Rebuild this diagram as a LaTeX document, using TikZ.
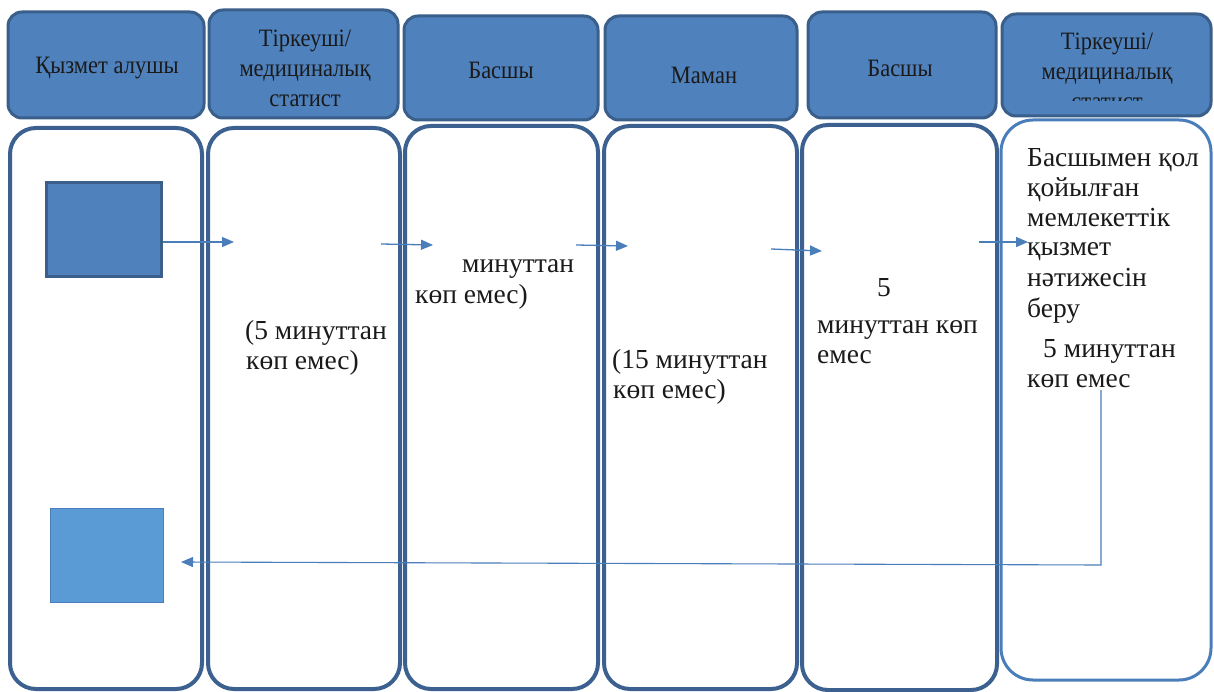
\documentclass[tikz,border=0pt]{standalone}
\usepackage{fontspec}
\setmainfont{Liberation Serif}
\newfontfamily\hdrfont{Liberation Serif}[FakeStretch=0.9]
\usetikzlibrary{arrows.meta}
\definecolor{hfill}{HTML}{4F81BD}
\definecolor{hborder}{HTML}{3A5F8B}
\definecolor{lborder}{HTML}{3C6190}
\definecolor{lborderlight}{HTML}{4A7EBB}
\definecolor{sqfill}{HTML}{5B9BD5}
\definecolor{acol}{HTML}{4A7EBB}
\definecolor{txt}{HTML}{1A1A1A}
\begin{document}
\begin{tikzpicture}[x=1pt,y=-1pt,
  hdr/.style={draw=hborder, fill=hfill, line width=3pt, rounded corners=14pt, inner sep=0pt},
  lane/.style={draw=lborder, line width=4pt, rounded corners=26pt, inner sep=0pt},
  htext/.style={font=\hdrfont\fontsize{25}{30}\selectfont, align=center, text=txt, inner sep=0pt},
  btext/.style={font=\fontsize{27.5}{30}\selectfont, anchor=base west, text=txt, inner sep=0pt},
  flow/.style={draw=acol, line width=1.3pt, -{Triangle[length=12pt,width=10pt]}}]
\useasboundingbox (0,0) rectangle (1214,692);
\fill[white] (0,0) rectangle (1214,692);

% header boxes
\node[hdr, minimum width=196pt, minimum height=106pt] (h1) at (106,65) {};
\node[hdr, minimum width=189pt, minimum height=108pt] (h2) at (303.5,64) {};
\node[hdr, minimum width=194pt, minimum height=104pt] (h3) at (501,68) {};
\node[hdr, minimum width=192pt, minimum height=104pt] (h4) at (701,68) {};
\node[hdr, minimum width=188pt, minimum height=106pt] (h5) at (902,65) {};
\node[hdr, minimum width=209pt, minimum height=102pt] (h6) at (1106.5,65) {};

% header texts
\node[htext] (ht1) at (107,68) {Қызмет алушы};
\node[htext] (ht2) at (305,68) {Тіркеуші/\\медициналық\\статист};
\node[htext] (ht3) at (501,70) {Басшы};
\node[htext] (ht4) at (704,75) {Маман};
\node[htext] (ht5) at (900,68) {Басшы};
\begin{scope}
  \clip (1000,0) rectangle (1214,101);
  \node[htext] (ht6) at (1107,71) {Тіркеуші/\\медициналық\\статист};
\end{scope}

% lanes
\node[lane, minimum width=192pt, minimum height=561pt] (l1) at (106,408.5) {};
\node[lane, minimum width=192pt, minimum height=561pt] (l2) at (304,408.5) {};
\node[lane, minimum width=193pt, minimum height=563pt] (l3) at (501.5,407.5) {};
\node[lane, minimum width=193pt, minimum height=563pt] (l4) at (700.5,407.5) {};
\node[lane, minimum width=195pt, minimum height=565pt] (l5) at (899.5,407.5) {};
\node[lane, draw=lborderlight, line width=3pt, rounded corners=32pt, minimum width=210pt, minimum height=560pt] (l6) at (1106,400) {};

% squares
\node[draw=hborder, fill=hfill, line width=3pt, minimum width=115pt, minimum height=94pt, inner sep=0pt] (s1) at (103.5,230) {};
\node[draw=lborderlight, fill=sqfill, line width=0.8pt, minimum width=113pt, minimum height=94pt, inner sep=0pt] (s2) at (106.5,555) {};

% arrow coordinates
\coordinate (a1e) at (234,242);
\coordinate (a2s) at (381,244);
\coordinate (a2e) at (433,245);
\coordinate (a3s) at (576,245);
\coordinate (a3e) at (628,246);
\coordinate (a4s) at (771,249);
\coordinate (a4e) at (822,251);
\coordinate (a5s) at (979,242);
\coordinate (a5e) at (1028,242);
\coordinate (r0) at (1101,390);
\coordinate (r1) at (1101,565);
\coordinate (r2) at (181,562);

\draw[flow] (s1.east |- a1e) -- (a1e);
\draw[flow] (a2s) -- (a2e);
\draw[flow] (a3s) -- (a3e);
\draw[flow] (a4s) -- (a4e);
\draw[flow] (a5s) -- (a5e);
\draw[flow, line width=1.1pt] (r0) -- (r1) -- (r2);

% lane texts
\node[btext] (t2a) at (245,339) {(5 минуттан};
\node[btext] (t2b) at (246,369) {көп емес)};
\node[btext] (t3a) at (462,273) {минуттан};
\node[btext] (t3b) at (415,304) {көп емес)};
\node[btext] (t4a) at (612,368) {(15 минуттан};
\node[btext] (t4b) at (613,398) {көп емес)};
\node[btext] (t5a) at (877,297) {5};
\node[btext] (t5b) at (817,333) {минуттан көп};
\node[btext] (t5c) at (817,363) {емес};
\node[btext] (t6a) at (1027,167) {Басшымен қол};
\node[btext] (t6b) at (1027,197) {қойылған};
\node[btext] (t6c) at (1027,227) {мемлекеттік};
\node[btext] (t6d) at (1027,256) {қызмет};
\node[btext] (t6e) at (1027,287) {нәтижесін};
\node[btext] (t6f) at (1027,317) {беру};
\node[btext] (t6g) at (1043,357) {5 минуттан};
\node[btext] (t6h) at (1027,387) {көп емес};
\end{tikzpicture}
\end{document}
